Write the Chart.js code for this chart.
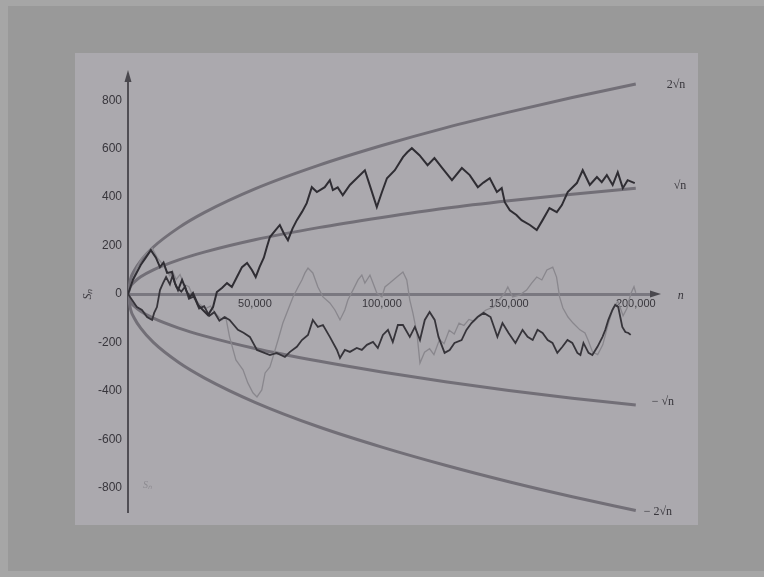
<!DOCTYPE html>
<html>
<head>
<meta charset="utf-8">
<title>Random walks and the square-root envelope</title>
<script src="https://cdn.jsdelivr.net/npm/chart.js@4.4.1/dist/chart.umd.min.js"></script>
<style>
	html, body { margin: 0; padding: 0; background: #9a9a9a; }
	#walks { display: block; filter: blur(0.7px); }
</style>
</head>
<body>
<canvas id="walks" width="764" height="577"></canvas>
<script>
// Tick labels
var xTicks = [ 50000, 100000, 150000, 200000 ];
var yTicks = [ -800, -600, -400, -200, 0, 200, 400, 600, 800 ];

// Envelope curves at a few n
var curve_n     = [ 0, 1000, 2500, 5000, 10000, 20000, 30000, 50000, 75000, 100000, 125000, 150000, 175000, 200000 ];
var curve_2root = [ 0, 61, 97, 137, 194, 274, 336, 434, 531, 613, 686, 751, 811, 867 ];
var curve_root  = [ 0, 32, 50, 71, 100, 141, 173, 224, 274, 316, 354, 385, 412, 437 ];
var curve_mroot = [ 0, -32, -50, -71, -100, -141, -173, -225, -277, -322, -362, -398, -430, -458 ];
var curve_m2root = [ 0, -63, -100, -141, -200, -283, -346, -447, -548, -632, -707, -775, -837, -894 ];

// Walk A (dark, ends up high)
var walkA_n = [ 0, 2000, 5000, 7000, 9000, 11000, 12600, 14000, 15400, 17300,
	18500, 19700, 21300, 23200, 24400, 25600, 27600, 29500, 31500, 33500,
	35000, 37000, 39000, 40900, 42900, 44900, 46900, 48800, 50300, 51800,
	53500, 54700, 55900, 57800, 59800, 61400, 63000, 64800, 66500, 68600,
	70400, 72400, 74400, 77500, 79500, 80700, 82600, 84600, 87400, 90100,
	93300, 95500, 98000, 100000, 102000, 105100, 108300, 110000, 111800, 114800,
	118000, 120700, 123800, 127600, 131500, 134600, 137800, 140000, 142500, 145300,
	147200, 148400, 150400, 153000, 155000, 158300, 161000, 163300, 166000, 168900,
	170900, 173200, 176800, 179100, 181900, 184700, 186600, 188600, 190900, 192900,
	194900, 196800, 199600 ];
var walkA_s = [ 0, 60, 120, 150, 181, 150, 111, 130, 87, 91,
	45, 16, 58, 8, -12, 4, -45, -66, -87, -54,
	8, 25, 45, 29, 70, 111, 128, 99, 70, 111,
	150, 194, 235, 260, 285, 250, 222, 270, 305, 340,
	375, 441, 421, 441, 470, 429, 440, 408, 450, 478,
	511, 440, 359, 420, 478, 511, 565, 585, 602, 573,
	532, 561, 520, 470, 520, 491, 441, 460, 478, 421,
	437, 379, 346, 326, 305, 285, 264, 305, 355, 338,
	367, 421, 458, 511, 450, 483, 462, 491, 450, 503,
	437, 470, 458 ];

// Walk B (dark, stays low)
var walkB_n = [ 0, 1600, 3500, 5500, 7500, 9500, 10300, 11400, 12600, 13800,
	15000, 16500, 17500, 19000, 21000, 22500, 24000, 26000, 28000, 30000,
	32000, 34000, 36000, 38000, 40000, 43300, 45500, 48000, 50800, 52700,
	55900, 58600, 61800, 63800, 66500, 68500, 70900, 72800, 74800, 76800,
	79500, 82300, 83500, 85400, 87400, 90100, 92100, 94100, 96500, 98400,
	100400, 102400, 104300, 106300, 108300, 111000, 113000, 115000, 116900, 118800,
	120800, 122300, 124700, 126700, 128600, 131400, 133300, 135300, 137700, 140100,
	142800, 145500, 147500, 149900, 152600, 155400, 157400, 159400, 161300, 163300,
	165300, 167200, 169100, 171100, 173100, 175000, 177000, 178200, 179400, 181400,
	182900, 184900, 186900, 188000, 189200, 190800, 191900, 193100, 193900, 194700,
	195900, 197100, 198000 ];
var walkB_s = [ 0, -25, -54, -66, -95, -107, -78, -54, 16, 45,
	70, 40, 75, 30, 10, 30, -20, -10, -60, -50,
	-90, -75, -110, -95, -107, -148, -160, -177, -231, -239,
	-252, -243, -260, -239, -218, -190, -169, -107, -136, -128,
	-177, -231, -264, -231, -239, -223, -231, -210, -198, -223,
	-169, -148, -198, -128, -128, -177, -136, -190, -107, -74,
	-107, -177, -243, -231, -202, -190, -148, -120, -95, -78,
	-95, -177, -120, -161, -202, -148, -177, -190, -148, -161,
	-190, -202, -243, -218, -190, -202, -243, -252, -202, -243,
	-252, -218, -177, -148, -107, -66, -45, -54, -95, -136,
	-157, -161, -169 ];

// Walk C (light grey)
var walkC_n = [ 0, 1500, 3500, 5500, 8000, 9500, 11500, 13500, 15000, 16500,
	17500, 19000, 20500, 22000, 24000, 26000, 28000, 30500, 32500, 34500,
	37000, 38500, 40000, 42500, 45300, 47200, 49200, 50800, 52700, 54000,
	55900, 57100, 59100, 61000, 63000, 65000, 67000, 68500, 69700, 70900,
	72800, 74800, 76800, 79500, 81500, 83500, 85400, 86600, 88600, 90600,
	92100, 93300, 95300, 96500, 98000, 100000, 101200, 103100, 105900, 108300,
	109800, 111000, 112200, 113800, 115000, 116800, 118800, 120500, 122700, 124500,
	126500, 128500, 130400, 132300, 134300, 136200, 138100, 141000, 144000, 146000,
	148400, 149600, 151500, 154300, 157000, 159000, 161000, 163000, 165000, 167300,
	168800, 170000, 171300, 173300, 175300, 178000, 180000, 181200, 183000, 185000,
	187000, 189000, 191000, 193000, 195000, 196500, 198000, 199300, 200000 ];
var walkC_s = [ 0, 50, 110, 150, 175, 190, 150, 125, 100, 75,
	95, 60, 80, 40, 30, -20, -40, -60, -50, -80,
	-107, -95, -177, -272, -313, -367, -408, -425, -396, -326,
	-301, -260, -190, -120, -66, -12, 29, 58, 87, 107,
	87, 29, -12, -37, -66, -107, -66, -25, 16, 58,
	78, 45, 78, 45, 4, -12, 29, 45, 70, 91,
	58, -25, -78, -161, -285, -240, -226, -250, -188, -205,
	-150, -165, -120, -130, -105, -112, -90, -66, -54, -25,
	4, 29, -12, -4, 16, 45, 70, 58, 99, 111,
	70, -12, -58, -95, -120, -148, -161, -190, -240, -250,
	-210, -130, -60, -30, -90, -60, 0, 30, 5 ];


function toPoints(xs, ys) {
	return xs.map(function(x, i) { return { x: x, y: ys[i] }; });
}

var curveStyle = { borderColor: '#726f77', borderWidth: 3, pointRadius: 0,
                   cubicInterpolationMode: 'monotone', fill: false, order: 3 };

var aDatasets = [
	Object.assign({ label: 'Walk A', data: toPoints(walkA_n, walkA_s) },
	              { borderColor: '#2f2d33', borderWidth: 2, pointRadius: 0, tension: 0, order: 0 }),
	Object.assign({ label: 'Walk B', data: toPoints(walkB_n, walkB_s) },
	              { borderColor: '#36343a', borderWidth: 1.8, pointRadius: 0, tension: 0, order: 1 }),
	Object.assign({ label: 'Walk C', data: toPoints(walkC_n, walkC_s) },
	              { borderColor: '#89878d', borderWidth: 1.3, pointRadius: 0, tension: 0, order: 2 }),
	Object.assign({ label: '2 sqrt n',  data: toPoints(curve_n, curve_2root) },  curveStyle),
	Object.assign({ label: 'sqrt n',    data: toPoints(curve_n, curve_root) },   curveStyle),
	Object.assign({ label: '-sqrt n',   data: toPoints(curve_n, curve_mroot) },  curveStyle),
	Object.assign({ label: '-2 sqrt n', data: toPoints(curve_n, curve_m2root) }, curveStyle)
];

// page background, paper sheet
var paperPlugin = {
	id: 'paper',
	beforeDraw: function(chart) {
		var ctx = chart.ctx;
		ctx.save();
		ctx.fillStyle = '#999999';
		ctx.fillRect(0, 0, chart.width, chart.height);
		ctx.fillStyle = '#a6a6a6';
		ctx.fillRect(0, 0, chart.width, 6);
		ctx.fillRect(0, 0, 8, chart.height);
		ctx.fillRect(0, chart.height - 6, chart.width, 6);
		ctx.fillStyle = '#aba9ae';
		ctx.fillRect(75, 53, 623, 472);
		ctx.restore();
	}
};

// arrow heads and curve labels
var notesPlugin = {
	id: 'notes',
	afterDraw: function(chart) {
		var ctx = chart.ctx;
		var xs = chart.scales.x, ys = chart.scales.y;
		var x0 = xs.getPixelForValue(0), y0 = ys.getPixelForValue(0);
		var xEnd = xs.right;
		ctx.save();
		ctx.fillStyle = '#4a484e';
		// y arrow
		ctx.beginPath();
		ctx.moveTo(x0, ys.top - 6);
		ctx.lineTo(x0 - 3.5, ys.top + 6);
		ctx.lineTo(x0 + 3.5, ys.top + 6);
		ctx.closePath();
		ctx.fill();
		// x arrow
		ctx.beginPath();
		ctx.moveTo(xEnd + 10, y0);
		ctx.lineTo(xEnd - 1, y0 - 3.5);
		ctx.lineTo(xEnd - 1, y0 + 3.5);
		ctx.closePath();
		ctx.fill();

		ctx.fillStyle = '#38363c';
		ctx.font = '12px "Liberation Serif"';
		ctx.textBaseline = 'middle';
		ctx.textAlign = 'left';
		var xLab = xs.getPixelForValue(200000);
		ctx.fillText('2\u221An', xLab + 31, ys.getPixelForValue(curve_2root[curve_2root.length - 1]) + 1);
		ctx.fillText('\u221An', xLab + 38, ys.getPixelForValue(curve_root[curve_root.length - 1]) - 2);
		ctx.fillText('\u2212 \u221An', xLab + 16, ys.getPixelForValue(curve_mroot[curve_mroot.length - 1]) - 3);
		ctx.fillText('\u2212 2\u221An', xLab + 8, ys.getPixelForValue(curve_m2root[curve_m2root.length - 1]) + 1);
		ctx.font = 'italic 12px "Liberation Serif"';
		ctx.fillText('n', xLab + 42, y0 + 2);

		// S_n, rotated, left of the y labels
		ctx.save();
		ctx.translate(88, y0);
		ctx.rotate(-Math.PI / 2);
		ctx.textAlign = 'center';
		ctx.fillText('S\u2099', 0, 0);
		ctx.restore();

		ctx.fillStyle = '#8d8b91';
		ctx.font = 'italic 10px "Liberation Serif"';
		ctx.fillText('S\u2099', x0 + 15, ys.getPixelForValue(-800) - 2);
		ctx.restore();
	}
};

var ctx = document.getElementById('walks');
var cfg = {
	type: 'line',
	data: { datasets: aDatasets },
	options: {
		responsive: false,
		devicePixelRatio: 1,
		animation: false,
		layout: { padding: { left: 0, right: 113, top: 76, bottom: 65 } },
		plugins: {
			legend: { display: false },
			tooltip: { enabled: false },
			title: { display: false }
		},
		scales: {
			x: {
				type: 'linear',
				position: { y: 0 },
				min: 0,
				max: 206000,
				grid: { display: false, drawTicks: false },
				border: { display: true, color: '#7a7880', width: 3 },
				afterBuildTicks: function(scale) {
					scale.ticks = xTicks.map(function(v) { return { value: v }; });
				},
				ticks: {
					padding: 3,
					color: '#38363c',
					font: { family: '"Liberation Sans"', size: 11 },
					maxRotation: 0,
					autoSkip: false,
					callback: function(v) { return Number(v).toLocaleString('en-US'); }
				}
			},
			y: {
				type: 'linear',
				position: 'left',
				min: -900,
				max: 900,
				grid: { display: false, drawTicks: false },
				border: { display: true, color: '#504e54', width: 2 },
				afterBuildTicks: function(scale) {
					scale.ticks = yTicks.map(function(v) { return { value: v }; });
				},
				afterFit: function(scale) { scale.width = 128; },
				ticks: {
					padding: 6,
					color: '#38363c',
					font: { family: '"Liberation Sans"', size: 12 },
					autoSkip: false
				}
			}
		}
	},
	plugins: [ paperPlugin, notesPlugin ]
};
new Chart(ctx, cfg);
</script>
</body>
</html>
